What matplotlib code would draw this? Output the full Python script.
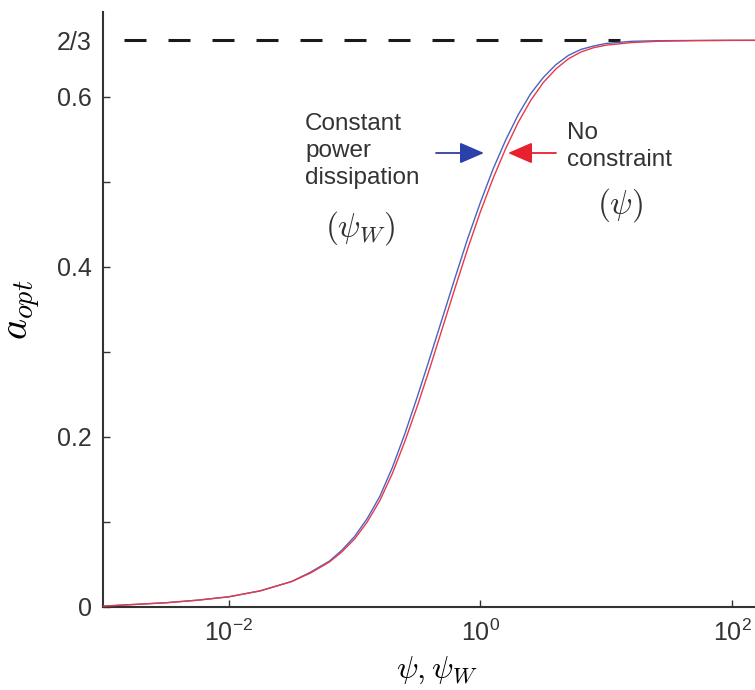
import numpy as np
import matplotlib
matplotlib.use("Agg")
import matplotlib.pyplot as plt

plt.rcParams['font.family'] = ['Liberation Sans', 'DejaVu Sans']
plt.rcParams['mathtext.fontset'] = 'cm'

# log10(psi) and a_opt
red_logx = [-3.0, -2.75, -2.5, -2.25, -2.0, -1.75, -1.5, -1.35, -1.2, -1.1, -1.0, -0.9, -0.8,
            -0.7, -0.6, -0.5, -0.4, -0.3, -0.2, -0.1, 0.0, 0.1, 0.2, 0.3, 0.4, 0.5, 0.6,
            0.7, 0.8, 0.9, 1.0, 1.2, 1.4, 1.7, 2.0, 2.5]
red_y = [0.001, 0.003, 0.005, 0.008, 0.012, 0.019, 0.030, 0.040, 0.053, 0.065, 0.080, 0.100, 0.125,
         0.157, 0.195, 0.237, 0.282, 0.329, 0.376, 0.422, 0.465, 0.504, 0.539, 0.570, 0.596, 0.617, 0.633,
         0.645, 0.653, 0.658, 0.661, 0.664, 0.6655, 0.6663, 0.6666, 0.6667]

blue_logx = red_logx
blue_y = [0.001, 0.003, 0.005, 0.008, 0.012, 0.019, 0.030, 0.041, 0.054, 0.067, 0.083, 0.104, 0.130,
          0.164, 0.204, 0.248, 0.294, 0.341, 0.388, 0.434, 0.476, 0.515, 0.549, 0.579, 0.604, 0.623, 0.638,
          0.649, 0.656, 0.660, 0.663, 0.6655, 0.6662, 0.6665, 0.6667, 0.6667]

a_max = 2 / 3
dash_logx = [-2.83, 1.11]

ytick_vals = [0, 0.1, 0.2, 0.3, 0.4, 0.5, 0.6, 2 / 3]
ytick_labels = ['0', '', '0.2', '', '0.4', '', '0.6', '2/3']
xtick_vals = [1e-2, 1e0, 1e2]
xtick_labels = [r'$\mathregular{10^{-2}}$', r'$\mathregular{10^{0}}$', r'$\mathregular{10^{2}}$']

fig = plt.figure(figsize=(7.55, 6.9), dpi=100)
L, R, B, T = 103 / 755, 771 / 755, 1 - 607 / 690, 1 - 12 / 690
ax = fig.add_axes([L, B, R - L, T - B])

ax.plot(10 ** np.array(red_logx), red_y, color='#e8384a', lw=1.0, zorder=3)
ax.plot(10 ** np.array(blue_logx), blue_y, color='#4a63c0', lw=1.0, zorder=2)
ax.plot(10 ** np.array(dash_logx), [a_max, a_max], color='#1a1a1a', lw=2.2,
        dashes=(7.2, 7.2), dash_capstyle='butt', zorder=1)

ax.set_xscale('log')
ax.set_xlim(1e-3, 10 ** 2.31)
ax.set_ylim(0, 0.7)

ax.set_xticks(xtick_vals)
ax.set_xticklabels(xtick_labels)
ax.xaxis.set_minor_locator(matplotlib.ticker.NullLocator())
ax.set_yticks(ytick_vals)
ax.set_yticklabels(ytick_labels)
ax.yaxis.get_major_ticks()[-1].tick1line.set_visible(False)

ax.tick_params(direction='in', length=5, width=1.0, labelsize=18, colors='#333333', pad=8)
ax.tick_params(axis='x', pad=9)
for s in ['top', 'right']:
    ax.spines[s].set_visible(False)
for s in ['left', 'bottom']:
    ax.spines[s].set_linewidth(1.5)
    ax.spines[s].set_color('#333333')

ax.set_xlabel(r'$\psi,\psi_W$', fontsize=23, labelpad=6)
ax.set_ylabel(r'$a_{opt}$', fontsize=29, labelpad=10)

def fx(px):
    return (px - 103) / (771 - 103)

def fy(py):
    return (607 - py) / (607 - 12)

ax.text(fx(305), fy(113), 'Constant\npower\ndissipation', transform=ax.transAxes,
        fontsize=17.5, ha='left', va='top', color='#333333', linespacing=1.3)
ax.text(fx(360), fy(228), r'$(\psi_W)$', transform=ax.transAxes,
        fontsize=24, ha='center', va='center', color='#333333')
ax.text(fx(567), fy(122), 'No\nconstraint', transform=ax.transAxes,
        fontsize=17.5, ha='left', va='top', color='#333333', linespacing=1.3)
ax.text(fx(620), fy(205), r'$(\psi)$', transform=ax.transAxes,
        fontsize=24, ha='center', va='center', color='#333333')

ax.annotate('', xy=(fx(484), fy(153)), xytext=(fx(436), fy(153)),
            xycoords='axes fraction', textcoords='axes fraction',
            arrowprops=dict(arrowstyle='-|>,head_length=1.5,head_width=0.65', color='#2b40a8', lw=1.3,
                            shrinkA=0, shrinkB=0))
ax.annotate('', xy=(fx(508), fy(153)), xytext=(fx(556), fy(153)),
            xycoords='axes fraction', textcoords='axes fraction',
            arrowprops=dict(arrowstyle='-|>,head_length=1.5,head_width=0.65', color='#e82030', lw=1.3,
                            shrinkA=0, shrinkB=0))

fig.savefig('out.png', dpi=100)
